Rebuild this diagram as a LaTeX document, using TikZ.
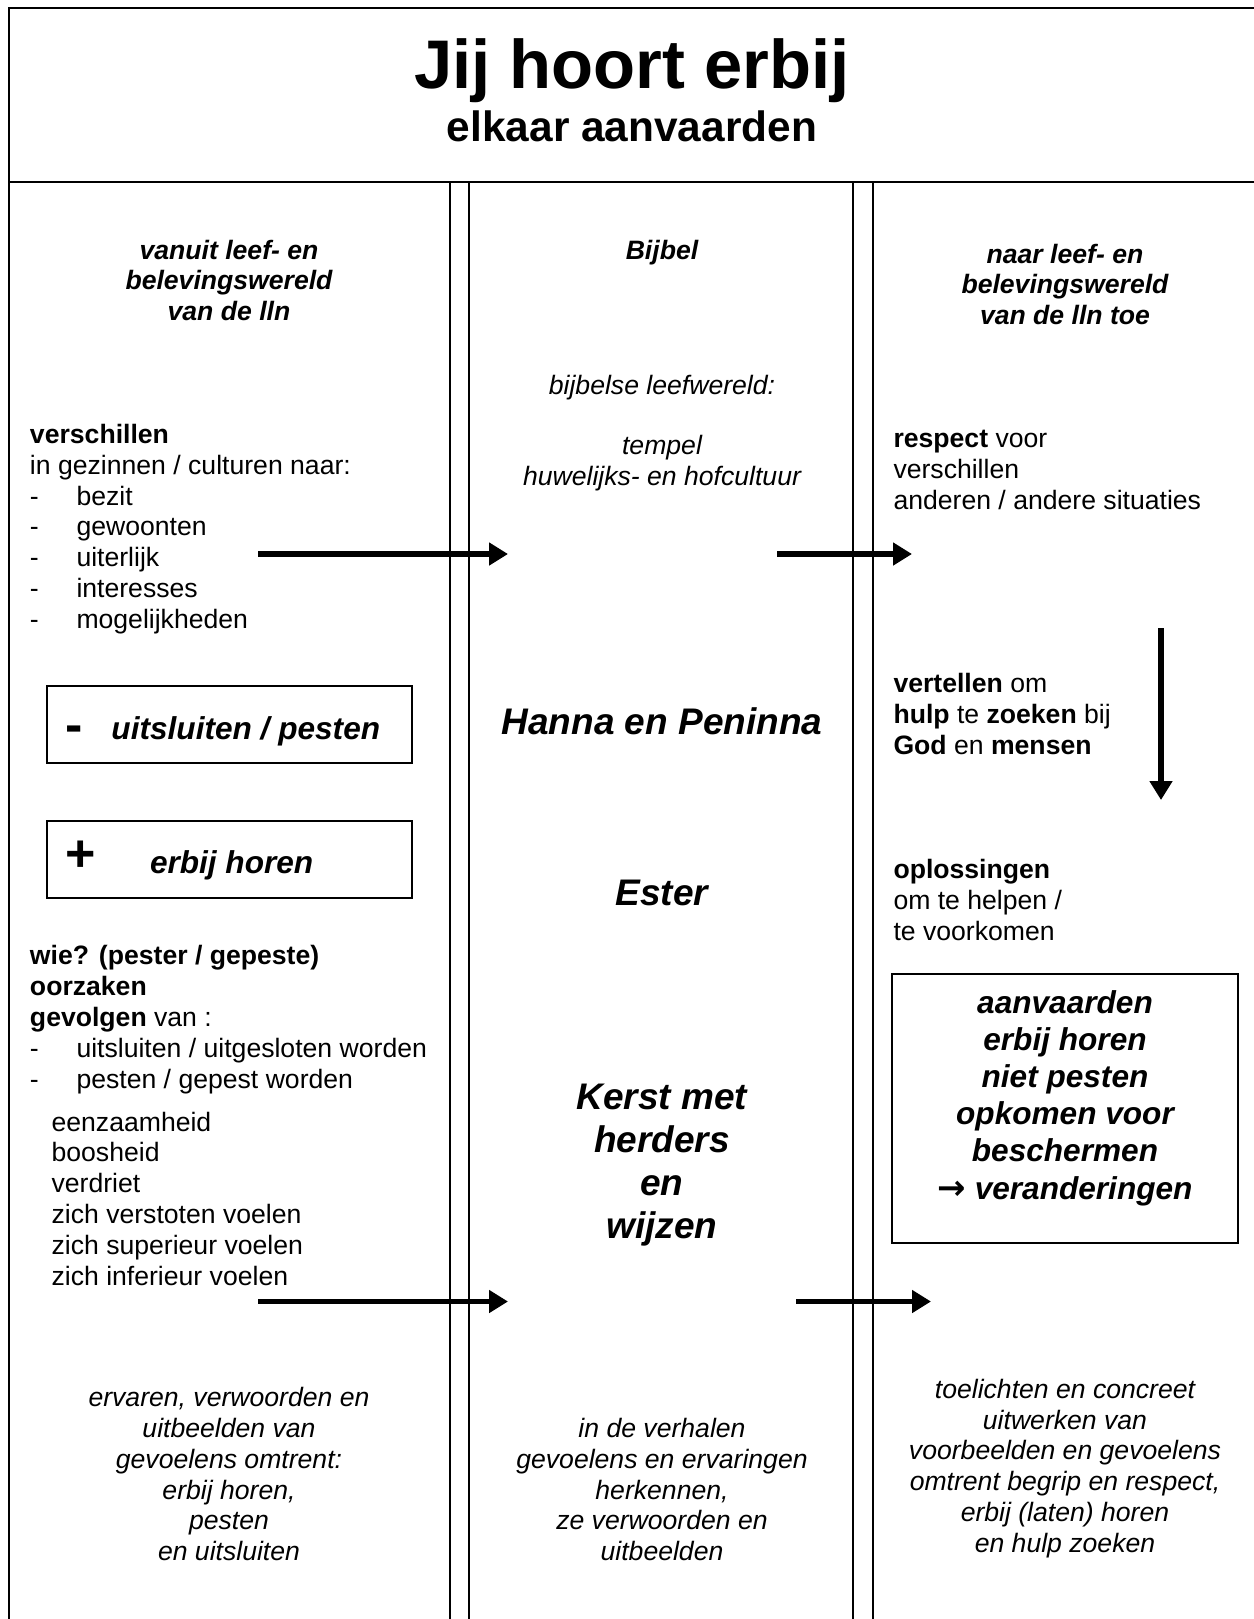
\documentclass[tikz,border=0pt]{standalone}
\usepackage{fontspec}
\setmainfont{Liberation Sans}
\newfontfamily\arrowfont{DejaVu Sans}
\usetikzlibrary{arrows.meta}
\begin{document}
\begin{tikzpicture}[x=0.5pt,y=-0.5pt,
  every node/.style={inner sep=0pt, outer sep=0pt},
  frame/.style={line width=1pt},
  colline/.style={line width=0.9pt},
  txt/.style={font=\fontsize{13.3}{15.4}\selectfont, anchor=base west},
  ctxt/.style={font=\fontsize{13.3}{15.4}\selectfont\itshape, anchor=base},
  hdr/.style={font=\fontsize{13.3}{15.4}\selectfont\bfseries\itshape, anchor=base},
  story/.style={font=\fontsize{18.5}{21.5}\selectfont\bfseries\itshape, anchor=base},
  boxtxt/.style={font=\fontsize{15.8}{18.6}\selectfont\bfseries\itshape},
  signtxt/.style={font=\fontsize{26}{30}\selectfont\bfseries, anchor=base west},
  panel/.style={draw, line width=1pt},
  flow/.style={line width=2.8pt, -{Triangle[length=9.5pt,width=11pt]}},
  ]
\useasboundingbox (0,0) rectangle (1254,1619);
% frame
\draw[frame] (1270,8) -- (9,8) -- (9,1640);
\draw[frame] (9,182) -- (1270,182);
\foreach \x in {450,469,853,873} \draw[colline] (\x,182) -- (\x,1640);
% title
\node[font=\fontsize{34.4}{40}\selectfont\bfseries, anchor=base] (title) at (632,88) {Jij hoort erbij};
\node[font=\fontsize{21.2}{25}\selectfont\bfseries, anchor=base] (subtitle) at (632,141.5) {elkaar aanvaarden};
% headers
\foreach \t [count=\i from 0] in {vanuit leef- en, belevingswereld, van de lln}
  \node[hdr] (hl\i) at (229,{259+30.5*\i}) {\t};
\node[hdr] (hm) at (662,259) {Bijbel};
\foreach \t [count=\i from 0] in {naar leef- en, belevingswereld, van de lln toe}
  \node[hdr] (hr\i) at (1065,{263+30.5*\i}) {\t};
% middle column
\node[ctxt] (bl) at (662,394) {bijbelse leefwereld:};
\node[ctxt] (tempel) at (662,454) {tempel};
\node[ctxt] (huw) at (662,485) {huwelijks- en hofcultuur};
\node[story] (hanna) at (662,734) {Hanna en Peninna};
\node[story] (ester) at (662,905.5) {Ester};
\foreach \t [count=\i from 0] in {Kerst met, herders, en, wijzen}
  \node[story] (kerst\i) at (662,{1109+43*\i}) {\t};
% left column
\node[txt] (vs) at (30,443) {\textbf{verschillen}};
\node[txt] (vs1) at (30,474) {in gezinnen / culturen naar:};
\foreach \t [count=\i from 0] in {bezit, gewoonten, uiterlijk, interesses, mogelijkheden}{
  \node[txt] (da\i) at (30,{505+30.8*\i}) {-};
  \node[txt] (ia\i) at (76.5,{505+30.8*\i}) {\t};}
\node[panel, minimum width=182.75pt, minimum height=38.5pt] (minbox) at (229.25,724.5) {};
\node[signtxt] (minus) at (65,742) {-};
\node[boxtxt, anchor=base west] (mintxt) at (111.5,739.5) {uitsluiten / pesten};
\node[panel, minimum width=182.75pt, minimum height=38.5pt] (plusbox) at (229.25,859.5) {};
\node[signtxt] (plus) at (65,871) {+};
\node[boxtxt, anchor=base west] (plustxt) at (150,873) {erbij horen};
\node[txt] (wie) at (30,964.5) {\textbf{wie? (pester / gepeste)}};
\node[txt] (oorz) at (30,995) {\textbf{oorzaken}};
\node[txt] (gev) at (30,1026) {\textbf{gevolgen} van :};
\node[txt] (db0) at (30,1057) {-};
\node[txt] (ib0) at (76.5,1057) {uitsluiten / uitgesloten worden};
\node[txt] (db1) at (30,1088) {-};
\node[txt] (ib1) at (76.5,1088) {pesten / gepest worden};
\foreach \t [count=\i from 0] in {eenzaamheid, boosheid, verdriet, zich verstoten voelen, zich superieur voelen, zich inferieur voelen}
  \node[txt] (gv\i) at (51.6,{1131+30.8*\i}) {\t};
% right column
\node[txt] (r0) at (893.5,447) {\textbf{respect} voor};
\node[txt] (r1) at (893.5,478) {verschillen};
\node[txt] (r2) at (893.5,509) {anderen / andere situaties};
\node[txt] (v0) at (893.5,692) {\textbf{vertellen} om};
\node[txt] (v1) at (893.5,723) {\textbf{hulp} te \textbf{zoeken} bij};
\node[txt] (v2) at (893.5,754) {\textbf{God} en \textbf{mensen}};
\node[txt] (o0) at (893.5,878) {\textbf{oplossingen}};
\node[txt] (o1) at (893.5,909) {om te helpen /};
\node[txt] (o2) at (893.5,940) {te voorkomen};
\node[panel, minimum width=173pt, minimum height=134.5pt] (goalbox) at (1064.5,1108.5) {};
\foreach \t [count=\i from 0] in {aanvaarden, erbij horen, niet pesten, opkomen voor, beschermen, {{\arrowfont\bfseries\upshape\fontsize{17}{18}\selectfont →} veranderingen}}
  \node[boxtxt, anchor=base] (g\i) at (1065,{1013+37.2*\i}) {\t};
% bottom texts
\foreach \t [count=\i from 0] in {{ervaren, verwoorden en}, uitbeelden van, gevoelens omtrent:, {erbij horen,}, pesten, en uitsluiten}
  \node[ctxt] (bL\i) at (229,{1406.6+30.8*\i}) {\t};
\foreach \t [count=\i from 0] in {in de verhalen, gevoelens en ervaringen, {herkennen,}, ze verwoorden en, uitbeelden}
  \node[ctxt] (bM\i) at (662,{1437.5+30.8*\i}) {\t};
\foreach \t [count=\i from 0] in {toelichten en concreet, uitwerken van, voorbeelden en gevoelens, {omtrent begrip en respect,}, erbij (laten) horen, en hulp zoeken}
  \node[ctxt] (bR\i) at (1065,{1398.3+30.8*\i}) {\t};
% arrows
\coordinate (a1s) at (258,554);   \coordinate (a1e) at (508,554);
\coordinate (a2s) at (777,554);   \coordinate (a2e) at (912,554);
\coordinate (a3s) at (1161,628);  \coordinate (a3e) at (1161,800);
\coordinate (a4s) at (258,1301.5); \coordinate (a4e) at (508,1301.5);
\coordinate (a5s) at (796,1301.5); \coordinate (a5e) at (931,1301.5);
\draw[flow] (a1s) -- (a1e);
\draw[flow] (a2s) -- (a2e);
\draw[flow] (a3s) -- (a3e);
\draw[flow] (a4s) -- (a4e);
\draw[flow] (a5s) -- (a5e);
\end{tikzpicture}
\end{document}
